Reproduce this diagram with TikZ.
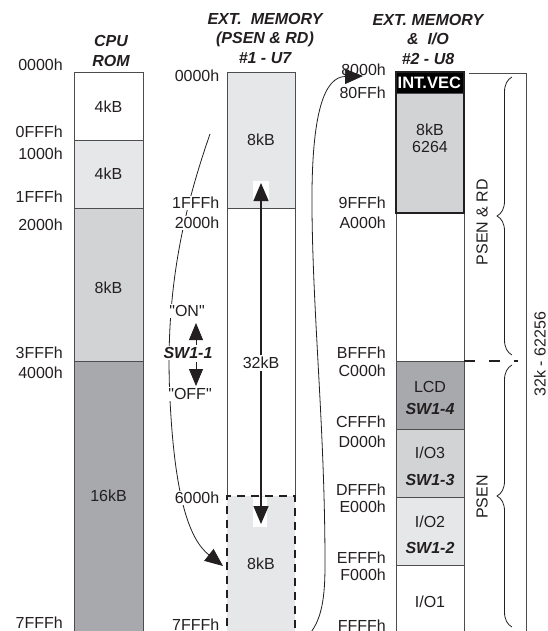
\documentclass[tikz,border=0pt]{standalone}
\usepackage{fontspec}
\setmainfont{Liberation Sans}
\newfontfamily\plainsans{Liberation Sans}
\usetikzlibrary{arrows.meta,decorations.pathreplacing}
\definecolor{lgray}{HTML}{E6E7E8}
\definecolor{mgray}{HTML}{D1D3D4}
\definecolor{dgray}{HTML}{A7A9AC}
\definecolor{ink}{HTML}{231F20}
\definecolor{edge}{HTML}{4D4D4F}
\tikzset{
  lbl/.style={font=\fontsize{16}{18}\selectfont, text=ink, inner sep=0pt},
  qlbl/.style={font=\plainsans\fontsize{16}{18}\selectfont, text=ink, inner sep=0pt},
  addr/.style={lbl, anchor=east},
  waddr/.style={addr, fill=white, inner sep=1.5pt},
  sw/.style={font=\bfseries\itshape\fontsize{16}{18}\selectfont, text=ink, inner sep=0pt},
  ttl/.style={font=\bfseries\itshape\fontsize{16}{19.5}\selectfont, align=center, text=ink, inner sep=0pt},
  blk/.style={draw=edge, line width=0.8pt, minimum width=68pt, inner sep=0pt, outer sep=0pt},
  thincurve/.style={line width=0.8pt, draw=ink},
  bigtip/.style={-{Triangle[width=15pt,length=18pt]}},
  dashbox/.style={line width=2pt, dash pattern=on 8pt off 6pt, draw=ink},
}
\begin{document}
\begin{tikzpicture}[x=1pt,y=-1pt]
\useasboundingbox (0,0) rectangle (548,631);
\clip (0,0) rectangle (548,631);

% ---------- titles
\node[ttl] (t1) at (111,51) {CPU\\ROM};
\node[ttl] (t2) at (265,38) {EXT.\ \ MEMORY\\(PSEN \& RD)\\\#1 - U7};
\node[ttl] (t3) at (428,39) {EXT. MEMORY\\\&\ \ I/O\\\#2 - U8};

% ---------- column 1 : CPU ROM
\node[blk, minimum width=69pt, minimum height=68pt, fill=white] (r1) at (108.5,106) {};
\node[blk, minimum width=69pt, minimum height=68pt, fill=lgray] (r2) at (108.5,174) {};
\node[blk, minimum width=69pt, minimum height=153pt, fill=mgray] (r3) at (108.5,284.5) {};
\node[blk, minimum width=69pt, minimum height=279pt, fill=dgray] (r4) at (108.5,500.5) {};
\node[lbl] (r1t) at (108.5,107) {4kB};
\node[lbl] (r2t) at (108.5,174) {4kB};
\node[lbl] (r3t) at (108.5,288) {8kB};
\node[lbl] (r4t) at (108.5,496) {16kB};

\node[addr] (a1) at (63,65) {0000h};
\node[addr] (a2) at (63,132) {0FFFh};
\node[addr] (a3) at (63,154) {1000h};
\node[addr] (a4) at (63,197) {1FFFh};
\node[addr] (a5) at (63,225) {2000h};
\node[addr] (a6) at (63,353) {3FFFh};
\node[addr] (a7) at (63,373) {4000h};
\node[addr] (a8) at (63,623) {7FFFh};

% ---------- column 2 : U7
\node[blk, minimum height=136pt, fill=lgray] (u1) at (261,140) {};
\node[blk, minimum height=288pt, fill=white] (u2) at (261,352) {};
\node[minimum width=68pt, minimum height=144pt, fill=lgray, inner sep=0pt, outer sep=0pt] (u3) at (261,568) {};
\draw[dashbox] (u3.south west) -- (u3.north west) -- (u3.north east) -- (u3.south east);
\node[lbl] (u1t) at (261,140) {8kB};
\node[lbl] (u3t) at (261,564) {8kB};

% switch curve
\coordinate (cs) at (210,134);
\coordinate (cm) at (170,400);
\coordinate (ce) at (223,566);
\draw[thincurve, bigtip] (cs) .. controls (180,220) and (165,300) .. (cm)
      .. controls (175,500) and (190,540) .. (ce);

\node[waddr] (b1) at (221,76) {0000h};
\node[waddr] (b2) at (221,203) {1FFFh};
\node[waddr] (b3) at (221,223) {2000h};
\node[waddr] (b4) at (221,498) {6000h};
\node[waddr] (b5) at (221,625) {7FFFh};

\node[qlbl, fill=white, inner sep=1.5pt] (on) at (187,311) {"ON"};
\node[sw, fill=white, inner sep=1.5pt] (sw1) at (188,353) {SW1-1};
\node[qlbl, fill=white, inner sep=1.5pt] (off) at (190,394) {"OFF"};
\coordinate (onb) at (196,345);
\coordinate (ont) at (196,323);
\coordinate (offt) at (196,362);
\coordinate (offb) at (196,386);
\draw[thincurve, -{Triangle[width=14pt,length=17pt]}] (onb) -- (ont);
\draw[thincurve, -{Triangle[width=14pt,length=17pt]}] (offt) -- (offb);

% 32kB double arrow
\fill[white] (253,181) rectangle (269,201);
\fill[white] (253,497) rectangle (267,527);
\coordinate (at) at (261,183);
\coordinate (ab) at (261,524);
\draw[line width=1.3pt, draw=ink, {Triangle[width=15pt,length=18pt]}-{Triangle[width=15pt,length=18pt]}] (at) -- (ab);
\node[lbl, fill=white, inner sep=2pt] (k32) at (261,363) {32kB};

% ---------- column 3 : U8
\node[blk, minimum height=21pt, fill=black] (v0) at (430,82.5) {};
\node[blk, minimum height=120pt, fill=mgray] (v1) at (430,153) {};
\node[blk, minimum height=148pt, fill=white] (v2) at (430,287) {};
\node[blk, minimum height=68pt, fill=dgray] (v3) at (430,395) {};
\node[blk, minimum height=68pt, fill=mgray] (v4) at (430,463) {};
\node[blk, minimum height=68pt, fill=lgray] (v5) at (430,531) {};
\node[blk, minimum height=75pt, fill=white] (v6) at (430,602.5) {};
\draw[line width=2.2pt, draw=ink] (v0.north west) rectangle (v1.south east);
\node[font=\bfseries\fontsize{16.5}{18}\selectfont, text=white, anchor=west, inner sep=0pt] (iv) at (397.5,83) {INT.VEC};
\node[lbl] (v1a) at (430,130) {8kB};
\node[lbl] (v1b) at (430,147) {6264};
\node[lbl] (v3a) at (430,387) {LCD};
\node[sw]  (v3b) at (430,409) {SW1-4};
\node[lbl] (v4a) at (430,453) {I/O3};
\node[sw]  (v4b) at (430,480) {SW1-3};
\node[lbl] (v5a) at (430,522) {I/O2};
\node[sw]  (v5b) at (430,548) {SW1-2};
\node[lbl] (v6a) at (430,602) {I/O1};

\node[addr] (c1) at (386,70) {8000h};
\node[addr] (c2) at (386,93) {80FFh};
\node[addr] (c3) at (386,203) {9FFFh};
\node[addr] (c4) at (386,223) {A000h};
\node[addr] (c5) at (386,353) {BFFFh};
\node[addr] (c6) at (386,371) {C000h};
\node[addr] (c7) at (386,422) {CFFFh};
\node[addr] (c8) at (386,442) {D000h};
\node[addr] (c9) at (386,490) {DFFFh};
\node[addr] (c10) at (386,507) {E000h};
\node[addr] (c11) at (386,558) {EFFFh};
\node[addr] (c12) at (386,575) {F000h};
\node[addr] (c13) at (386,626) {FFFFh};

% bank-switch curve from U7 to U8
\coordinate (rs) at (304,640);
\coordinate (re) at (363,76);
\draw[thincurve, bigtip] (rs) .. controls (320,625) and (325,605) .. (325,565)
      .. controls (325,430) and (313,320) .. (312,210)
      .. controls (311,110) and (325,77) .. (re);

% ---------- right side frame, braces, labels
\coordinate (f1) at (469,73);
\coordinate (f2) at (526,73);
\coordinate (f3) at (526,640);
\draw[draw=edge, line width=0.8pt] (f1) -- (f2) -- (f3);
\coordinate (ds) at (518,361);
\draw[line width=2pt, draw=ink, dash pattern=on 11pt off 14pt] (v3.north east) -- (ds);

\coordinate (br1b) at (512,355);
\coordinate (br1t) at (512,77);
\coordinate (br2b) at (512,627);
\coordinate (br2t) at (512,365);
\draw[thincurve, decorate, decoration={brace, amplitude=15pt}] (br1b) -- (br1t);
\draw[thincurve, decorate, decoration={brace, amplitude=15pt}] (br2b) -- (br2t);

\node[lbl, rotate=90] (psrd) at (482,222) {PSEN \& RD};
\node[lbl, rotate=90] (ps) at (482,497) {PSEN};
\node[lbl, rotate=90] (tot) at (540,354) {32k - 62256};
\end{tikzpicture}
\end{document}
